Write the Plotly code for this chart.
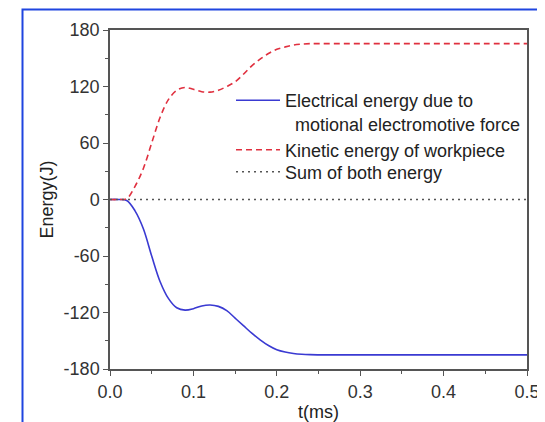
import plotly.graph_objects as go

t_ms = [0, 0.01, 0.02, 0.03, 0.04, 0.05, 0.06, 0.07, 0.08, 0.09, 0.10, 0.11, 0.12, 0.13, 0.14,
        0.15, 0.16, 0.17, 0.18, 0.19, 0.20, 0.21, 0.22, 0.23, 0.24, 0.26, 0.30, 0.35, 0.40, 0.45, 0.50]
kinetic = [0, 0, 1, 14, 33, 60, 87, 106, 116, 119, 117, 114.5, 114, 116, 120,
           125, 133, 142, 149, 155, 159.5, 162, 164, 165, 165.5, 165.5, 165.5, 165.5, 165.5, 165.5, 165.5]
electrical = [0, 0, -1, -12, -31, -60, -87, -105, -115, -117.5, -116, -113, -112, -113.5, -118,
              -126, -134, -142, -149, -155, -159.5, -162, -163.5, -164.3, -164.7, -165, -165, -165, -165, -165, -165]
sum_energy = [0, 0, 0, 0, 0, 0, 0, 0, 0, 0, 0, 0, 0, 0, 0,
              0, 0, 0, 0, 0, 0, 0, 0, 0, 0, 0, 0, 0, 0, 0, 0]

y_ticks = [180, 120, 60, 0, -60, -120, -180]
y_tick_labels = ["180", "120", "60", "0", "-60", "-120", "-180"]
x_ticks = [0.0, 0.1, 0.2, 0.3, 0.4, 0.5]
x_tick_labels = ["0.0", "0.1", "0.2", "0.3", "0.4", "0.5"]

FONT = "Arial, Liberation Sans, sans-serif"

fig = go.Figure()
fig.add_trace(go.Scatter(
    x=t_ms, y=electrical, mode="lines", line_shape="spline",
    line=dict(color="#3a3ad2", width=1.6),
    name="Electrical energy due to<br>  motional electromotive force", legend="legend"))
fig.add_trace(go.Scatter(
    x=t_ms, y=kinetic, mode="lines", line_shape="spline",
    line=dict(color="#e0303f", width=1.6, dash="6px,4px"),
    name="Kinetic energy of workpiece", legend="legend2"))
fig.add_trace(go.Scatter(
    x=t_ms, y=sum_energy, mode="lines",
    line=dict(color="#555555", width=1.6, dash="2px,4px"),
    name="Sum of both energy", legend="legend3"))

# the page body adds an 8px offset; figure is sized so the window is filled
W, H = 537, 414
L, R, T, B = 102, 18, 22, 53

def px_x(p):  # window pixel -> paper x
    return (p - 110) / 417

def px_y(p):  # window pixel -> paper y
    return (369 - p) / 339

leg_common = dict(xanchor="left", bgcolor="rgba(0,0,0,0)",
                  font=dict(size=18, color="#222222"), valign="top", itemwidth=44)

fig.update_layout(
    width=W, height=H,
    margin=dict(l=L, r=R, t=T, b=B, autoexpand=False),
    paper_bgcolor="white", plot_bgcolor="white",
    font=dict(family=FONT, size=18, color="#222222"),
    showlegend=True,
    legend=dict(x=px_x(231), y=px_y(82), yanchor="top", **leg_common),
    legend2=dict(x=px_x(231), y=px_y(150), yanchor="middle", **leg_common),
    legend3=dict(x=px_x(231), y=px_y(172), yanchor="middle", **leg_common),
    xaxis=dict(range=[0, 0.5], tickvals=x_ticks, ticktext=x_tick_labels, automargin=False,
               showgrid=False, zeroline=False, showline=True, linecolor="#555555",
               linewidth=1.5, mirror=True, ticks="outside", ticklen=5, tickwidth=1.2,
               tickcolor="#555555", ticklabelstandoff=1,
               minor=dict(ticks="outside", ticklen=3, dtick=0.05, tickcolor="#555555", tickwidth=1.2),
               title=dict(text="t(ms)", font=dict(size=18), standoff=4),
               tickfont=dict(size=18, color="#333333")),
    yaxis=dict(range=[-180, 180], tickvals=y_ticks, ticktext=y_tick_labels, automargin=False,
               showgrid=False, zeroline=False, showline=True, linecolor="#555555",
               linewidth=1.5, mirror=True, ticks="outside", ticklen=5, tickwidth=1.2,
               tickcolor="#555555",
               minor=dict(ticks="outside", ticklen=3, dtick=30, tickcolor="#555555", tickwidth=1.2),
               title=dict(text="Energy(J)", font=dict(size=18), standoff=5),
               tickfont=dict(size=18, color="#333333")),
    shapes=[dict(type="rect", xref="paper", yref="paper",
                 x0=px_x(22.5), x1=px_x(580), y0=px_y(460), y1=px_y(9.5),
                 line=dict(color="#1f45e0", width=2), fillcolor="rgba(0,0,0,0)", layer="above")],
)

fig.write_html("out.html")
